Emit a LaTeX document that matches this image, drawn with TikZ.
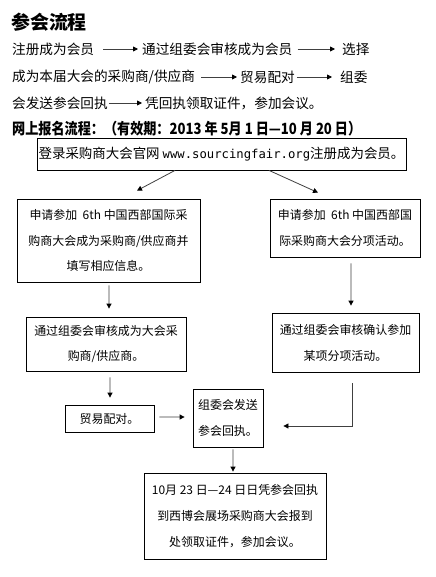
\documentclass[tikz,border=0pt]{standalone}
\usepackage{fontspec}
\usepackage{graphicx}
\newfontfamily\cjk{Noto Sans CJK SC}
\newfontfamily\mono{DejaVu Sans Mono}
\usetikzlibrary{arrows.meta}
\tikzset{
  box/.style={draw, line width=0.8bp, inner sep=0pt, align=center, font=\cjk\fontsize{12}{26}\selectfont},
  arr/.style={draw=black!75, line width=0.8bp, -{Triangle[length=5bp,width=5bp,color=black]}},
  txt/.style={inner sep=0pt, anchor=west, font=\cjk\fontsize{13.7}{16}\selectfont},
}
\begin{document}
\begin{tikzpicture}[x=1bp,y=-1bp]
\useasboundingbox[fill=white] (0,0) rectangle (436,577);
% top text
\node[txt, font=\cjk\bfseries\fontsize{19}{19}\selectfont] (title) at (11,22.5) {参会流程};
\node[txt] (t11) at (12,49) {注册成为会员};
\node[txt] (t12) at (142,49) {通过组委会审核成为会员};
\node[txt] (t13) at (342,49) {选择};
\draw[arr] ([xshift=9bp]t11.east) -- ([xshift=-4bp]t12.west);
\draw[arr] ([xshift=5bp]t12.east) -- ([xshift=-7bp]t13.west);
\node[txt] (t21) at (12,77) {成为本届大会的采购商/供应商};
\node[txt] (t22) at (240,77) {贸易配对};
\node[txt] (t23) at (340,77) {组委};
\draw[arr] ([xshift=6bp]t21.east) -- ([xshift=-3bp]t22.west);
\draw[arr] ([xshift=2bp]t22.east) -- ([xshift=-8bp]t23.west);
\node[txt] (t31) at (12,103) {会发送参会回执};
\node[txt] (t32) at (145,103) {凭回执领取证件，参加会议。};
\draw[arr] ([xshift=1bp]t31.east) -- ([xshift=-3bp]t32.west);
\node[txt, font=\cjk\bfseries\fontsize{15.5}{16}\selectfont] (head) at (12,129) {\resizebox{349bp}{\height}{网上报名流程：（有效期：2013 年 5月 1 日—10 月 20 日）}};
% boxes
\node[box, font=\cjk\fontsize{13.5}{16}\selectfont, minimum width=369bp, minimum height=32bp] (b1) at (221.5,154) {登录采购商大会官网 {\mono\fontsize{12.3}{16}\selectfont www.sourcingfair.org}注册成为会员。};
\node[box, minimum width=183bp, minimum height=83bp] (b2) at (108.5,240.5) {申请参加\ \ 6th 中国西部国际采\\购商大会成为采购商/供应商并\\填写相应信息。};
\node[box, minimum width=150bp, minimum height=58bp] (b3) at (345,228) {申请参加\ \ 6th 中国西部国\\际采购商大会分项活动。};
\node[box, minimum width=160bp, minimum height=54bp] (b4) at (106,344) {通过组委会审核成为大会采\\购商/供应商。};
\node[box, minimum width=147bp, minimum height=59bp] (b5) at (345.5,342.5) {通过组委会审核确认参加\\某项分项活动。};
\node[box, minimum width=89bp, minimum height=27bp] (b6) at (109.5,418.5) {贸易配对。};
\node[box, minimum width=70bp, minimum height=58bp] (b7) at (228,418) {组委会发送\\参会回执。};
\node[box, minimum width=182bp, minimum height=86bp] (b8) at (235,516) {10月 23 日—24 日日凭参会回执\\到西博会展场采购商大会报到\\处领取证件，参加会议。};
% connectors
\draw[arr] ([xshift=-46.5bp]b1.south) -- ([xshift=28.5bp,yshift=8bp]b2.north);
\draw[arr] ([xshift=47.5bp]b1.south) -- ([xshift=-27bp,yshift=6bp]b3.north);
\draw[arr] ([xshift=0.5bp,yshift=-3bp]b2.south) -- ([xshift=3bp,yshift=8bp]b4.north);
\draw[arr] ([xshift=6bp,yshift=-6bp]b3.south) -- ([xshift=5.5bp,yshift=7bp]b5.north);
\draw[arr] ([xshift=4bp,yshift=-6bp]b4.south) -- ([xshift=0.5bp,yshift=7bp]b6.north);
\draw[arr] ([xshift=5bp,yshift=1.5bp]b6.east) -- ([xshift=-8bp,yshift=1bp]b7.west);
\draw[arr] ([xshift=6.5bp,yshift=-11bp]b5.south) |- ([xshift=20bp,yshift=-8bp]b7.east);
\draw[arr] ([xshift=5bp,yshift=-2bp]b7.south) -- ([xshift=-2bp,yshift=1bp]b8.north);
\end{tikzpicture}
\end{document}
